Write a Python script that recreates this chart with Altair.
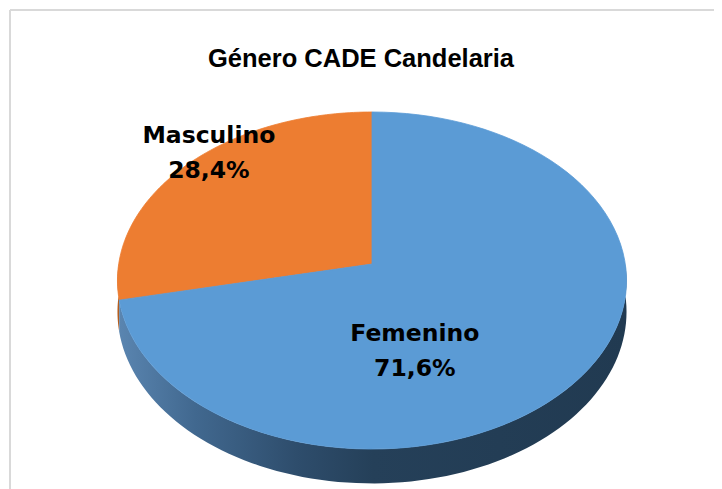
import altair as alt
import pandas as pd

# ---- data ----
categories = ["Masculino", "Femenino"]
shares = [28.4, 71.6]
pct_labels = ["28,4%", "71,6%"]
colors = ["#ED7D31", "#5B9BD5"]
title_text = "Género CADE Candelaria"

df = pd.DataFrame({
    "category": categories,
    "share": shares,
    "pct": pct_labels,
    "order": list(range(len(categories))),
})

# ---- geometry (style) constants for the 3-D perspective pie ----
A = 253.3   # horizontal radius (px)
B = 166.9   # vertical radius (px)
E = 0.098   # perspective factor
T = 31      # wall thickness (px)
N = 90      # points per arc

W, H = 706, 481
xscale = alt.Scale(domain=[-364, 342])
yscale = alt.Scale(domain=[-225, 256])

base = (
    alt.Chart(df)
    .transform_window(cum="sum(share)", sort=[alt.SortField("order", order="ascending")], frame=[None, 0])
    .transform_joinaggregate(total="sum(share)")
    .transform_calculate(t0="PI/2 + 2*PI*(datum.cum - datum.share)/datum.total")
    .transform_calculate(t1="PI/2 + 2*PI*datum.cum/datum.total")
)

enc_xy = dict(
    x=alt.X("X:Q", scale=xscale, axis=None),
    y=alt.Y("Y:Q", scale=yscale, axis=None),
    order=alt.Order("p:Q"),
)

# top faces
top = (
    base.transform_calculate(p=f"sequence(0, {N + 2})")
    .transform_flatten(["p"])
    .transform_calculate(r="datum.p == 0 ? 0 : 1")
    .transform_calculate(t=f"datum.t0 + (datum.t1 - datum.t0) * max(datum.p - 1, 0) / {N}")
    .transform_calculate(X=f"datum.r*{A}*cos(datum.t)/(1 + {E}*datum.r*sin(datum.t))")
    .transform_calculate(Y=f"datum.r*{B}*sin(datum.t)/(1 + {E}*datum.r*sin(datum.t))")
    .mark_line(filled=True, interpolate="linear-closed", strokeWidth=0.8)
    .encode(
        color=alt.Color("category:N", scale=alt.Scale(domain=categories, range=colors), legend=None),
        stroke=alt.Stroke("category:N", scale=alt.Scale(domain=categories, range=colors), legend=None),
        detail="category:N",
        **enc_xy,
    )
)

# side walls
wall_base = (
    base.transform_calculate(lo="max(datum.t0, PI)")
    .transform_calculate(hi="min(datum.t1, 2*PI)")
    .transform_filter("datum.hi > datum.lo")
    .transform_calculate(p=f"sequence(0, {2 * N + 2})")
    .transform_flatten(["p"])
    .transform_calculate(q=f"datum.p <= {N} ? datum.p : {2 * N + 1} - datum.p")
    .transform_calculate(bot=f"datum.p > {N} ? 1 : 0")
    .transform_calculate(t=f"datum.lo + (datum.hi - datum.lo) * datum.q / {N}")
    .transform_calculate(X=f"{A}*cos(datum.t)/(1 + {E}*sin(datum.t))")
    .transform_calculate(Y=f"({B}*sin(datum.t) - {T}*datum.bot)/(1 + {E}*sin(datum.t))")
)

wall_grad = alt.Gradient(
    gradient="linear", x1=0, x2=1, y1=0, y2=0,
    stops=[
        alt.GradientStop(offset=0, color="#5A85B0"),
        alt.GradientStop(offset=0.15, color="#41688F"),
        alt.GradientStop(offset=0.35, color="#2E4D6C"),
        alt.GradientStop(offset=0.5, color="#254059"),
        alt.GradientStop(offset=1, color="#213A51"),
    ],
)

wall_f = (
    wall_base.transform_filter(alt.datum.category == categories[1])
    .mark_line(filled=True, interpolate="linear-closed", fill=wall_grad, strokeWidth=0)
    .encode(**enc_xy)
)
wall_m = (
    wall_base.transform_filter(alt.datum.category == categories[0])
    .mark_line(filled=True, interpolate="linear-closed", fill="#B35D1F", strokeWidth=0)
    .encode(**enc_xy)
)

# labels
lab_base = (
    base.transform_calculate(tm="(datum.t0 + datum.t1)/2")
    .transform_calculate(X=f"0.6*{A}*cos(datum.tm)/(1 + {E}*0.6*sin(datum.tm))")
    .transform_calculate(Y=f"0.6*{B}*sin(datum.tm)/(1 + {E}*0.6*sin(datum.tm))")
)
lab_enc = dict(x=alt.X("X:Q", scale=xscale, axis=None), y=alt.Y("Y:Q", scale=yscale, axis=None))
font_lab = dict(font="DejaVu Sans", fontSize=23.5, fontWeight="bold", color="#000000", align="center", baseline="alphabetic")

label_layers = []
offsets = {categories[0]: (-49, -60, -25), categories[1]: (-80, 12, 47)}
for cat, (dx, dy1, dy2) in offsets.items():
    sub = lab_base.transform_filter(alt.datum.category == cat)
    label_layers.append(sub.mark_text(dx=dx, dy=dy1, **font_lab).encode(text="category:N", **lab_enc))
    label_layers.append(sub.mark_text(dx=dx, dy=dy2, **font_lab).encode(text="pct:N", **lab_enc))

one = alt.Data(values=[{"title": title_text}])
title = alt.Chart(one).mark_text(
    font="Liberation Sans", fontSize=25.5, fontWeight="bold", color="#000000",
    align="center", baseline="alphabetic",
).encode(x=alt.value(353), y=alt.value(59), text="title:N")

border_left = alt.Chart(one).mark_rule(color="#D9D9D9", strokeWidth=2).encode(
    x=alt.value(2), y=alt.value(2), y2=alt.value(H)
)
border_top = alt.Chart(one).mark_rule(color="#D9D9D9", strokeWidth=2).encode(
    x=alt.value(2), x2=alt.value(W), y=alt.value(2)
)

chart = (
    alt.layer(wall_m, wall_f, top, *label_layers, title, border_left, border_top)
    .properties(width=W, height=H, autosize="none", padding=0, background="white")
    .configure_view(stroke=None)
)

chart.save("out.html", embed_options={"renderer": "svg", "actions": False})
